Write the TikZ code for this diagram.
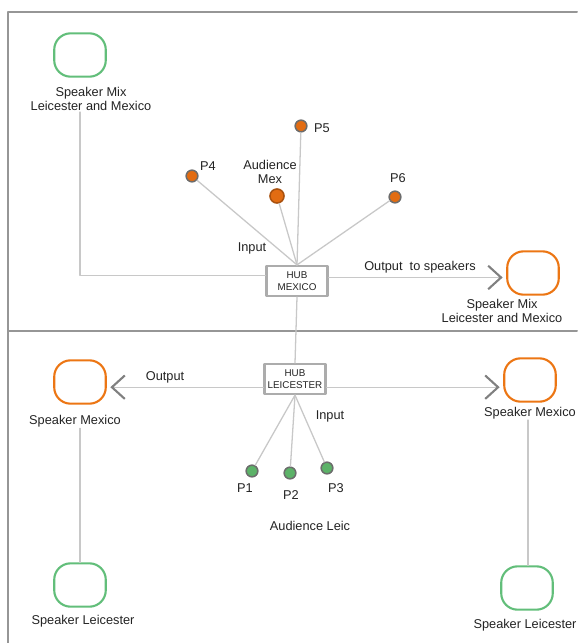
\documentclass[tikz,border=0pt]{standalone}
\usepackage{fontspec}
\setmainfont{Liberation Sans}
\usetikzlibrary{arrows.meta,positioning}
\definecolor{spkgreen}{RGB}{98,190,122}
\definecolor{spkorange}{RGB}{236,118,20}
\definecolor{dotorange}{RGB}{226,108,18}
\definecolor{dotgreen}{RGB}{92,178,104}
\definecolor{wiregray}{RGB}{200,200,200}
\definecolor{framegray}{RGB}{150,150,150}
\definecolor{hubgray}{RGB}{172,172,172}
\definecolor{ink}{RGB}{35,35,35}
\begin{document}
\begin{tikzpicture}[x=0.03cm, y=-0.03cm, font=\fontsize{10.9}{11.8}\selectfont, text=ink, line join=round, line cap=round,
  speaker/.style={draw=#1, line width=1.8pt, minimum width=44pt, minimum height=37pt, rounded corners=14pt, inner sep=0pt},
  hub/.style={draw=hubgray, line width=2pt, fill=white, align=center, font=\fontsize{8.4}{9.9}\selectfont, minimum width=52pt, minimum height=25.5pt, inner sep=1pt},
  person/.style={circle, draw=gray!85!black, line width=1.3pt, fill=#1, minimum size=10pt, inner sep=0pt},
  lbl/.style={align=center, inner sep=1pt},
  wire/.style={draw=wiregray, line width=1.1pt},
  outarrow/.style={wire, -{Straight Barb[length=11pt, width=20pt, line width=1.8pt, color=gray]}, shorten >=3pt},
  frame/.style={draw=framegray, line width=1.7pt}]
\useasboundingbox (0,0) rectangle (577,643);
% frame and divider
\draw[frame] (577,12) -- (8,12) -- (8,643);
\draw[frame] (8,331) -- (577,331);
% Mexico side
\node[speaker=spkgreen] (spkMixL) at (80,55) {};
\node[lbl] (lblMixL) at (91,99) {Speaker Mix\\Leicester and Mexico};
\node[hub] (hubMex) at (297,281) {HUB\\MEXICO};
\node[speaker=spkorange] (spkMixR) at (533,273) {};
\node[lbl] (lblMixR) at (502,311) {Speaker Mix\\Leicester and Mexico};
\node[person=dotorange] (p4) at (192,176) {};
\node[person=dotorange] (p5) at (301,126) {};
\node[person=dotorange] (p6) at (395,197) {};
\node[person=dotorange, minimum size=12pt, draw=dotorange!75!black] (audMex) at (277,196) {};
\node[lbl] (lblP4) at (208,166) {P4};
\node[lbl] (lblP5) at (322,128) {P5};
\node[lbl] (lblP6) at (398,178) {P6};
\node[lbl] (lblAudMex) at (270,172) {Audience\\Mex};
\node[lbl] (lblInMex) at (252,248) {Input};
\node[lbl] (lblOutMex) at (420,267) {Output\ \ to speakers};
\coordinate (inMex) at ([yshift=5pt]hubMex.west);
\coordinate (outMex) at ([yshift=3pt]hubMex.east);
\draw[wire] (lblMixL.south -| spkMixL) |- (inMex);
\foreach \p in {p4,p5,p6,audMex}
  \draw[wire] (\p) -- (hubMex.north);
\draw[outarrow] (outMex) -- (outMex -| spkMixR.west);
% Leicester side
\node[hub] (hubLei) at (295,379) {HUB\\LEICESTER};
\node[speaker=spkorange] (spkMexL) at (80,382) {};
\node[lbl] (lblMexL) at (75,421) {Speaker Mexico};
\node[speaker=spkorange] (spkMexR) at (530,380) {};
\node[lbl] (lblMexR) at (530,413) {Speaker Mexico};
\node[speaker=spkgreen] (spkLeiL) at (80,585) {};
\node[lbl] (lblLeiL) at (83,621) {Speaker Leicester};
\node[speaker=spkgreen] (spkLeiR) at (527,588) {};
\node[lbl] (lblLeiR) at (525,625) {Speaker Leicester};
\node[person=dotgreen] (p1) at (252,471) {};
\node[person=dotgreen] (p2) at (290,473) {};
\node[person=dotgreen] (p3) at (327,468) {};
\node[lbl] (lblP1) at (245,488) {P1};
\node[lbl] (lblP2) at (291,495) {P2};
\node[lbl] (lblP3) at (336,488) {P3};
\node[lbl] (lblAudLei) at (310,526) {Audience Leic};
\node[lbl] (lblOutLei) at (165,377) {Output};
\node[lbl] (lblInLei) at (330,416) {Input};
\coordinate (outLeiW) at ([yshift=-7pt]hubLei.west);
\coordinate (outLeiE) at ([yshift=-7pt]hubLei.east);
\coordinate (dropR) at (528,420);
\draw[wire] (hubMex.south) -- (hubLei.north);
\draw[outarrow] (outLeiW) -- (outLeiW -| spkMexL.east);
\draw[outarrow] (outLeiE) -- (outLeiE -| spkMexR.west);
\foreach \p in {p1,p2,p3}
  \draw[wire] (hubLei.south) -- (\p);
\draw[wire] (lblMexL.south -| spkMexL) -- (spkLeiL);
\draw[wire] (dropR) -- (dropR |- spkLeiR.north);
\end{tikzpicture}
\end{document}
